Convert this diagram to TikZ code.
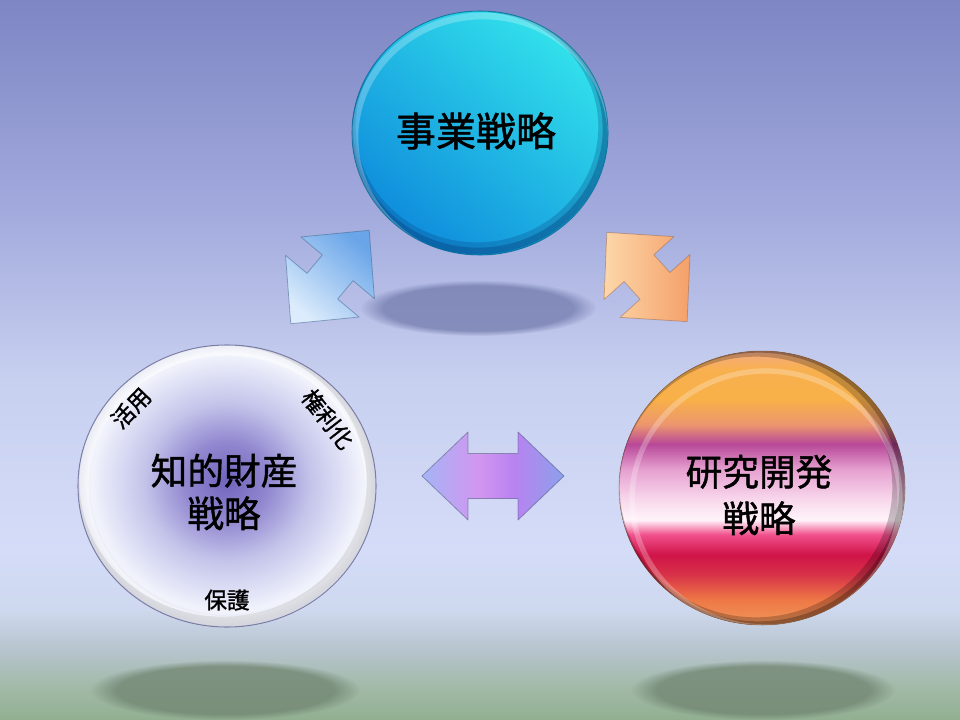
\documentclass[tikz,border=0pt]{standalone}
\usepackage{fontspec}
\setmainfont{Noto Sans CJK JP}[AutoFakeBold=1.2]
\usetikzlibrary{fadings,shadings,calc}

\definecolor{bgA}{RGB}{145,175,145}
\definecolor{bgB}{RGB}{160,185,165}
\definecolor{bgC}{RGB}{182,196,205}
\definecolor{bgD}{RGB}{206,216,238}
\definecolor{bgE}{RGB}{212,220,248}
\definecolor{bgF}{RGB}{200,208,240}
\definecolor{bgG}{RGB}{160,168,220}
\definecolor{bgH}{RGB}{126,134,196}
\pgfdeclareverticalshading{bgshade}{100bp}{color(0bp)=(bgA); color(25bp)=(bgA); color(27.08bp)=(bgB); color(29.86bp)=(bgC); color(32.64bp)=(bgD); color(36.8bp)=(bgE); color(48.6bp)=(bgF); color(61.1bp)=(bgG); color(75bp)=(bgH); color(100bp)=(bgH)}

\definecolor{rA}{RGB}{240,150,90}
\definecolor{rB}{RGB}{238,120,70}
\definecolor{rC}{RGB}{216,50,72}
\definecolor{rD}{RGB}{208,20,72}
\definecolor{rE}{RGB}{240,80,140}
\definecolor{rF}{RGB}{255,244,250}
\definecolor{rG}{RGB}{248,216,236}
\definecolor{rH}{RGB}{230,160,208}
\definecolor{rI}{RGB}{184,72,152}
\definecolor{rJ}{RGB}{236,150,110}
\definecolor{rK}{RGB}{248,176,72}
\definecolor{rL}{RGB}{248,176,80}
\definecolor{rM}{RGB}{244,170,130}
\pgfdeclareverticalshading{rdshade}{100bp}{color(0bp)=(rA); color(25bp)=(rA); color(29.6bp)=(rB); color(34.2bp)=(rC); color(37.8bp)=(rD); color(41.5bp)=(rE); color(44.2bp)=(rF); color(47.9bp)=(rG); color(53.4bp)=(rH); color(58bp)=(rI); color(61.6bp)=(rJ); color(66.2bp)=(rK); color(71.7bp)=(rL); color(75bp)=(rM); color(100bp)=(rM)}

\definecolor{ipA}{RGB}{112,100,188}
\definecolor{ipB}{RGB}{145,136,208}
\definecolor{ipC}{RGB}{196,196,234}
\definecolor{ipD}{RGB}{226,228,247}
\definecolor{ipE}{RGB}{242,244,252}
\definecolor{ipF}{RGB}{205,210,230}
\pgfdeclareradialshading{ipshade}{\pgfpoint{0bp}{1bp}}{color(0bp)=(ipA); color(7bp)=(ipB); color(14bp)=(ipC); color(20bp)=(ipD); color(23bp)=(ipE); color(25bp)=(ipF); color(50bp)=(ipF)}

\definecolor{bizTop}{RGB}{50,225,235}
\definecolor{bizBot}{RGB}{15,140,220}
\definecolor{bizRim}{RGB}{5,60,120}

\definecolor{maA}{RGB}{165,180,245}
\definecolor{maB}{RGB}{210,150,240}
\definecolor{maC}{RGB}{185,130,240}
\definecolor{maD}{RGB}{140,160,235}
\pgfdeclarehorizontalshading{midarrow}{100bp}{color(0bp)=(maA); color(25bp)=(maA); color(45bp)=(maB); color(57bp)=(maC); color(75bp)=(maD); color(100bp)=(maD)}

\definecolor{blA}{RGB}{105,165,232}
\definecolor{blB}{RGB}{220,236,252}
\definecolor{orA}{RGB}{252,215,170}
\definecolor{orB}{RGB}{245,160,105}
\definecolor{shTop}{RGB}{110,118,168}
\definecolor{shBot}{RGB}{112,132,112}

\newcommand{\dblarrowpath}[4]{(-#1,0) -- (-#1+#2,#3) -- (-#1+#2,#4) -- (#1-#2,#4) -- (#1-#2,#3) -- (#1,0) -- (#1-#2,-#3) -- (#1-#2,-#4) -- (-#1+#2,-#4) -- (-#1+#2,-#3) -- cycle}

\tikzset{
  lbl/.style={inner sep=0pt, text=black},
  bigtxt/.style={lbl, align=center, font=\bfseries\fontsize{27.5}{32}\selectfont},
  smalltxt/.style={lbl, font=\bfseries\fontsize{17}{19}\selectfont},
  blurshadow/.style={path fading=circle with fuzzy edge 20 percent, fit fading=true},
  arrowedge/.style={draw=#1, line width=0.6pt, line join=round}
}

\begin{document}
\begin{tikzpicture}[x=0.75pt,y=-0.75pt]
\useasboundingbox (0,0) rectangle (960,720);
% background
\fill[shading=bgshade] (0,0) rectangle (960,720);

% shadows
\fill[shTop, opacity=0.7, blurshadow] (478,308) ellipse [x radius=118, y radius=28];
\fill[shBot, opacity=0.75, blurshadow] (225,690) ellipse [x radius=135, y radius=30];
\fill[shBot, opacity=0.75, blurshadow] (763,690) ellipse [x radius=132, y radius=30];

% top circle: business strategy
\fill[top color=bizTop, bottom color=bizBot, shading angle=-40] (480,133) ellipse [x radius=128, y radius=122];
\begin{scope}
  \clip (480,133) ellipse [x radius=128, y radius=122];
  \draw[bizRim, line width=10, opacity=0.25] (477,127) ellipse [x radius=128, y radius=122];
  \draw[bizRim, line width=5, opacity=0.35] (478,129) ellipse [x radius=128, y radius=122];
  \draw[white, line width=5, opacity=0.25] (483,138) ellipse [x radius=128, y radius=122];
\end{scope}
\draw[bizRim!70!cyan, line width=0.8pt, opacity=0.6] (480,133) ellipse [x radius=128, y radius=122];

% left circle: IP strategy
\fill[shading=ipshade] (227,486) ellipse [x radius=149, y radius=141];
\begin{scope}
  \clip (227,486) ellipse [x radius=149, y radius=141];
  \draw[white, line width=10, opacity=0.55] (227,486) ellipse [x radius=145, y radius=137];
  \draw[gray, line width=8, opacity=0.18] (223,481) ellipse [x radius=149, y radius=141];
\end{scope}
\draw[gray!80!blue, line width=0.8pt, opacity=0.7] (227,486) ellipse [x radius=149, y radius=141];

% right circle: R&D strategy
\fill[shading=rdshade] (762,488) ellipse [x radius=143, y radius=137];
\begin{scope}
  \clip (762,488) ellipse [x radius=143, y radius=137];
  \draw[black, line width=10, opacity=0.22] (756,487) ellipse [x radius=143, y radius=137];
  \draw[black, line width=4, opacity=0.25] (759,487) ellipse [x radius=143, y radius=137];
  \draw[white, line width=4, opacity=0.25] (766,499) ellipse [x radius=134, y radius=128];
\end{scope}
\draw[rA!60!black, line width=0.6pt, opacity=0.35] (762,488) ellipse [x radius=143, y radius=137];

% block arrows
\begin{scope}[shift={(330,277)}, rotate=50]
  \path[top color=blA, bottom color=blB, shading angle=-40] \dblarrowpath{61}{49}{48}{20};
  \path[arrowedge=blA!60!black, opacity=0.5] \dblarrowpath{61}{49}{48}{20};
\end{scope}
\begin{scope}[shift={(647,277)}, rotate=-48]
  \path[left color=orA, right color=orB] \dblarrowpath{60}{48}{47}{20};
  \path[arrowedge=orB!60!black, opacity=0.45] \dblarrowpath{60}{48}{47}{20};
\end{scope}
\begin{scope}[shift={(493,476)}]
  \path[shading=midarrow] \dblarrowpath{71}{46}{44}{22.5};
  \path[arrowedge=maD!50!black, opacity=0.5] \dblarrowpath{71}{46}{44}{22.5};
\end{scope}

% texts
\node[lbl, font=\bfseries\fontsize{30}{36}\selectfont] (biz) at (476,131) {事業戦略};
\node[bigtxt] (ip) at (224,492) {知的財産\\戦略};
\node[bigtxt, font=\bfseries\fontsize{27.5}{35}\selectfont] (rd) at (759,495) {研究開発\\戦略};
\node[smalltxt, rotate=46] (use) at (131,408) {活用};
\node[smalltxt, rotate=-52] (patent) at (328,419) {権利化};
\node[smalltxt] (protect) at (227,600) {保護};
\end{tikzpicture}
\end{document}
